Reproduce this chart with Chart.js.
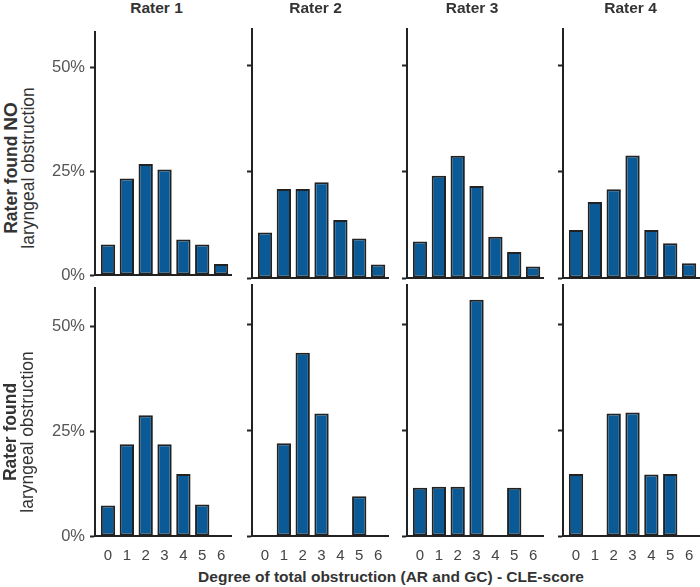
<!DOCTYPE html>
<html>
<head>
<meta charset="utf-8">
<script src="https://cdn.jsdelivr.net/npm/chart.js@4"></script>
<style>
  body { margin: 0; background: #fff; font-family: "Liberation Sans", Arial, sans-serif; }
  #wrap { position: relative; width: 700px; height: 587px; overflow: hidden; }
  canvas { position: absolute; }
  .txt { position: absolute; color: #333; white-space: nowrap; transform: translate(-50%, -50%); }
  .rot { position: absolute; color: #333; white-space: nowrap; text-align: center;
         transform: translate(-50%, -50%) rotate(-90deg); font-size: 17.5px; line-height: 17px; }
</style>
</head>
<body>
<div id="wrap"></div>
<script>
const scores = [0, 1, 2, 3, 4, 5, 6];
const raters = ['Rater 1', 'Rater 2', 'Rater 3', 'Rater 4'];
const yTicks = [0, 25, 50];

// % of cases per CLE score, rater found NO laryngeal obstruction
const rater1No = [7.4, 23.3, 26.8, 25.5, 8.6, 7.4, 2.7];
const rater2No = [10.7, 21.0, 21.0, 22.6, 13.7, 9.3, 3.2];
const rater3No = [8.6, 24.1, 28.8, 21.7, 9.7, 6.1, 2.7];
const rater4No = [11.3, 17.9, 20.9, 28.9, 11.3, 8.2, 3.5];

// rater found laryngeal obstruction
const rater1Yes = [7.3, 21.9, 28.8, 21.9, 14.8, 7.5, 0];
const rater2Yes = [0, 21.9, 43.2, 28.9, 0, 9.4, 0];
const rater3Yes = [11.4, 11.6, 11.6, 55.7, 0, 11.4, 0];
const rater4Yes = [14.6, 0, 28.9, 29.1, 14.5, 14.6, 0];

const rows = [
  [rater1No, rater2No, rater3No, rater4No],
  [rater1Yes, rater2Yes, rater3Yes, rater4Yes]
];

const wrap = document.getElementById('wrap');
const axisLeft = [45, 202, 357, 513];   // canvas left per column
const rowTop = [17, 273];
const plotH = [249, 251];
const xAxisH = [12, 24];
const yMax = [58.7, 59.2];

rows.forEach((row, r) => {
  row.forEach((values, c) => {
    const cv = document.createElement('canvas');
    cv.width = 187;
    cv.height = 12 + plotH[r] + xAxisH[r];
    cv.style.left = axisLeft[c] + 'px';
    cv.style.top = rowTop[r] + 'px';
    wrap.appendChild(cv);

    new Chart(cv, {
      type: 'bar',
      data: {
        datasets: [{
          data: values.map((v, i) => ({ x: scores[i], y: v })),
          backgroundColor: '#0a5a98',
          borderColor: '#222',
          borderWidth: 2,
          borderSkipped: false,
          barPercentage: 0.76,
          categoryPercentage: 1
        }]
      },
      options: {
        responsive: false,
        animation: false,
        layout: { padding: { top: 12, left: 0, right: 0, bottom: 0 } },
        plugins: { legend: { display: false }, tooltip: { enabled: false } },
        scales: {
          x: {
            type: 'linear',
            offset: false,
            min: -0.69,
            max: 6.58,
            afterFit: s => { s.height = xAxisH[r]; },
            border: { display: true, color: '#222', width: 2 },
            grid: { display: false, offset: false },
            ticks: {
              display: r === 1,
              stepSize: 1,
              includeBounds: false,
              autoSkip: false,
              maxRotation: 0,
              padding: 3,
              color: '#444',
              font: { family: '"Liberation Sans", Arial', size: 15 }
            }
          },
          y: {
            min: 0,
            max: yMax[r],
            afterFit: s => { s.width = 50; },
            border: { display: true, color: '#222', width: 2 },
            grid: { drawOnChartArea: false, drawTicks: true, tickLength: 5, tickWidth: 2, tickColor: '#222' },
            afterBuildTicks: s => { s.ticks = yTicks.map(v => ({ value: v })); },
            ticks: {
              display: c === 0,
              padding: 5,
              color: '#555',
              font: { family: '"Liberation Sans", Arial', size: 16.5 },
              callback: v => v + '%'
            }
          }
        }
      }
    });
  });
});

function addText(html, cls, x, y, style) {
  const d = document.createElement('div');
  d.className = cls;
  d.innerHTML = html;
  d.style.left = x + 'px';
  d.style.top = y + 'px';
  Object.assign(d.style, style || {});
  wrap.appendChild(d);
}

const titleX = [156.5, 315.5, 472, 630.5];
raters.forEach((t, i) => addText(t, 'txt', titleX[i], 8, { fontWeight: 'bold', fontSize: '15.5px' }));

addText('<b>Rater found <span style="font-size:19px">NO</span></b><br>laryngeal obstruction', 'rot', 19, 168);
addText('<b>Rater found</b><br>laryngeal obstruction', 'rot', 19, 432);
addText('Degree of total obstruction (AR and GC) - CLE-score', 'txt', 391, 577, { fontWeight: 'bold', fontSize: '15.5px' });
</script>
</body>
</html>
